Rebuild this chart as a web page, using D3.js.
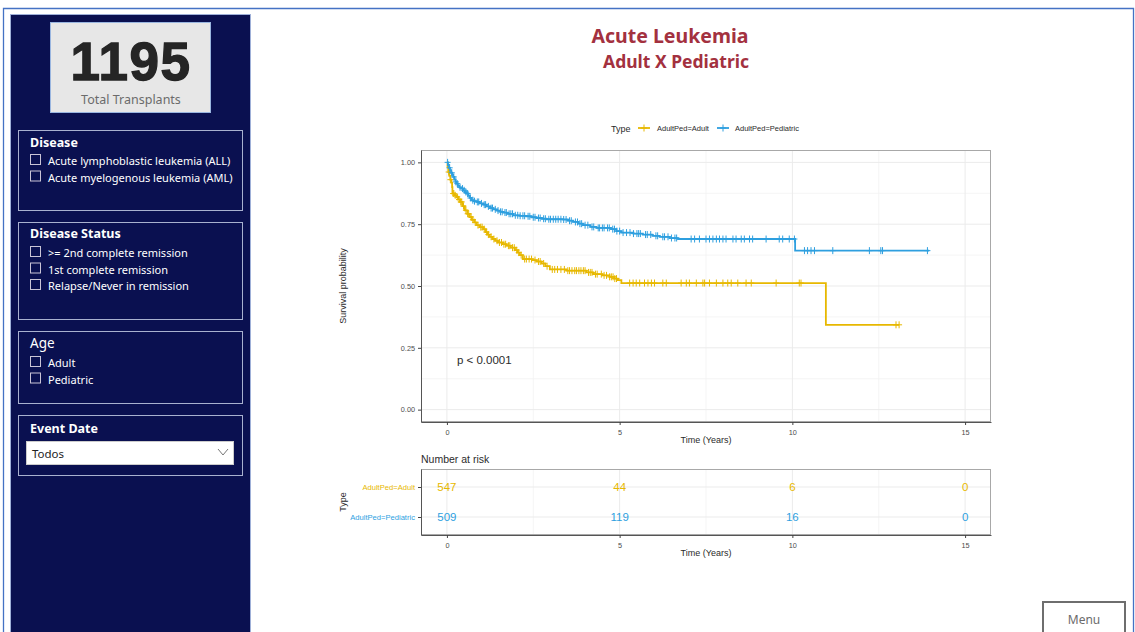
<!DOCTYPE html>
<html><head><meta charset="utf-8">
<script src="https://cdn.jsdelivr.net/npm/d3@7"></script>
<style>body{margin:0;background:#fff;overflow:hidden} svg{display:block}</style>
</head><body><svg id="c" width="1135" height="632"></svg>
<script>
// ---------------- DATA ----------------
const groups = ["AdultPed=Adult", "AdultPed=Pediatric"];
const groupColors = ["#E7B800", "#2E9FDF"];
const adultCurve = [[0,1.0],[0.02,0.98],[0.04,0.961],[0.07,0.945],[0.1,0.93],[0.13,0.918],[0.15,0.9],[0.16,0.874],[0.22,0.867],[0.28,0.86],[0.33,0.85],[0.38,0.84],[0.45,0.823],[0.52,0.806],[0.59,0.792],[0.66,0.779],[0.72,0.768],[0.79,0.757],[0.86,0.746],[0.95,0.738],[1.05,0.73],[1.12,0.718],[1.18,0.708],[1.24,0.699],[1.32,0.69],[1.4,0.683],[1.48,0.676],[1.6,0.669],[1.73,0.663],[1.85,0.655],[1.97,0.645],[2.05,0.635],[2.11,0.625],[2.2,0.609],[2.49,0.605],[2.6,0.599],[2.74,0.591],[2.85,0.58],[2.98,0.567],[3.46,0.562],[4.04,0.555],[4.23,0.548],[4.5,0.543],[4.71,0.537],[4.85,0.53],[4.95,0.524],[5.05,0.512],[10.97,0.343],[13.09,0.343]];
const pedCurve = [[0,1.0],[0.03,0.99],[0.06,0.978],[0.09,0.968],[0.12,0.958],[0.15,0.95],[0.18,0.941],[0.22,0.93],[0.25,0.921],[0.28,0.914],[0.32,0.905],[0.36,0.899],[0.42,0.894],[0.47,0.887],[0.52,0.88],[0.57,0.874],[0.62,0.865],[0.66,0.856],[0.71,0.847],[0.78,0.843],[0.86,0.84],[0.95,0.834],[1.05,0.829],[1.15,0.822],[1.25,0.815],[1.34,0.81],[1.45,0.805],[1.55,0.8],[1.63,0.797],[1.75,0.792],[1.92,0.786],[2.1,0.784],[2.3,0.782],[2.45,0.778],[2.59,0.775],[2.75,0.772],[2.88,0.77],[3.36,0.769],[3.5,0.764],[3.65,0.759],[3.8,0.752],[3.94,0.746],[4.15,0.739],[4.33,0.735],[4.75,0.73],[4.9,0.722],[5.05,0.716],[5.4,0.712],[5.67,0.708],[5.95,0.703],[6.16,0.699],[6.45,0.694],[6.69,0.69],[10.08,0.643],[13.96,0.643]];
const adultCensor = [0.05,0.1,0.18,0.2,0.24,0.3,0.35,0.4,0.43,0.48,0.55,0.6,0.63,0.7,0.75,0.82,0.9,0.98,1.02,1.08,1.15,1.2,1.28,1.36,1.45,1.52,1.58,1.65,1.7,1.78,1.82,1.9,1.95,2.02,2.08,2.15,2.25,2.3,2.38,2.45,2.55,2.65,2.7,2.8,2.9,3.05,3.12,3.2,3.3,3.4,3.5,3.55,3.62,3.7,3.75,3.82,3.88,3.95,4.0,4.1,4.15,4.2,4.3,4.35,4.47,4.55,4.62,4.71,4.76,4.81,4.86,4.91,5.29,5.39,5.48,5.58,5.72,5.82,5.92,6.01,6.25,6.35,6.78,6.93,7.02,7.22,7.41,7.46,7.6,7.8,7.99,8.13,8.23,8.42,8.66,8.81,9.53,10.2,10.25,13.0,13.09];
const pedCensor = [0.02,0.08,0.14,0.2,0.26,0.3,0.38,0.45,0.5,0.55,0.6,0.68,0.75,0.8,0.88,0.92,1.0,1.08,1.12,1.2,1.28,1.32,1.4,1.48,1.55,1.6,1.68,1.72,1.8,1.85,1.9,1.98,2.05,2.12,2.2,2.25,2.35,2.4,2.5,2.55,2.65,2.7,2.8,2.85,2.95,3.0,3.08,3.15,3.22,3.3,3.38,3.45,3.55,3.6,3.72,3.78,3.85,3.9,4.0,4.08,4.2,4.25,4.38,4.42,4.5,4.55,4.65,4.7,4.8,4.85,4.92,5.0,5.1,5.2,5.3,5.4,5.5,5.55,5.6,5.75,5.8,5.9,6.05,6.1,6.25,6.3,6.4,6.5,6.6,6.65,7.07,7.17,7.31,7.5,7.6,7.7,7.8,7.89,7.99,8.08,8.28,8.37,8.52,8.61,8.76,8.85,9.24,9.62,9.72,9.91,10.06,10.35,10.44,10.54,10.64,11.17,12.23,12.56,12.61,13.91];
const xTicks = [0, 5, 10, 15];
const xMinor = [2.5, 7.5, 12.5];
const yTicks = [0, 0.25, 0.5, 0.75, 1.0];
const yMinor = [0.125, 0.375, 0.625, 0.875];
const riskTimes = [0, 5, 10, 15];
const adultRisk = [547, 44, 6, 0];
const pedRisk = [509, 119, 16, 0];
const pValueText = "p < 0.0001";
const totalTransplants = "1195";
const filterTitles = ["Disease", "Disease Status", "Age", "Event Date"];
const diseaseItems = ["Acute lymphoblastic leukemia (ALL)", "Acute myelogenous leukemia (AML)"];
const statusItems = [">= 2nd complete remission", "1st complete remission", "Relapse/Never in remission"];
const ageItems = ["Adult", "Pediatric"];
const eventDateValue = "Todos";

// ---------------- DRAW ----------------
const svg = d3.select("#c");
const UI = "'Segoe UI','Noto Sans','Open Sans',sans-serif";
const AR = "'Liberation Sans',Arial,sans-serif";
const TXT = "#2b2b2b";

// page frame
svg.append("path").attr("d","M3.5,632 V8.5 H1133.5 V632").attr("fill","none").attr("stroke","#4472c4").attr("stroke-width",1.3);

// left navy panel
svg.append("rect").attr("x",10.5).attr("y",14.5).attr("width",240).attr("height",630).attr("fill","#0a1050").attr("stroke","#9fb0d8").attr("stroke-width",1);

// KPI card
svg.append("rect").attr("x",50.5).attr("y",22.5).attr("width",160).attr("height",90).attr("fill","#e7e7e7").attr("stroke","#9ab6e0").attr("stroke-width",1);
svg.append("text").attr("x",131).attr("y",80).attr("text-anchor","middle").attr("font-family",AR).attr("font-weight","bold").attr("font-size",53).attr("letter-spacing",1.5).attr("fill","#252525").attr("stroke","#252525").attr("stroke-width",1.3).text(totalTransplants);
svg.append("text").attr("x",131).attr("y",104).attr("text-anchor","middle").attr("font-family",UI).attr("font-size",12.5).attr("fill","#6b6b6b").text("Total Transplants");

// filter boxes
const boxes = [
  {y:130, h:80, title:filterTitles[0], bold:true, items:diseaseItems, ty:147, iy:165},
  {y:222, h:97, title:filterTitles[1], bold:true, items:statusItems, ty:238, iy:257},
  {y:331, h:72, title:filterTitles[2], bold:false, items:ageItems, ty:348, iy:367},
  {y:415, h:60, title:filterTitles[3], bold:true, items:[], ty:433, iy:0}
];
boxes.forEach(b => {
  svg.append("rect").attr("x",18.5).attr("y",b.y+0.5).attr("width",224).attr("height",b.h).attr("fill","none").attr("stroke","#a9b1cf").attr("stroke-width",1);
  svg.append("text").attr("x",30).attr("y",b.ty).attr("font-family",UI).attr("font-size",b.bold?12.5:13.5).attr("font-weight",b.bold?"bold":"normal").attr("fill","#ffffff").text(b.title);
  b.items.forEach((it,i) => {
    const yy = b.iy + i*16.5;
    svg.append("rect").attr("x",30.5).attr("y",yy-10.5).attr("width",10).attr("height",10).attr("fill","none").attr("stroke","#c9c4d6").attr("stroke-width",1);
    svg.append("text").attr("x",48).attr("y",yy).attr("font-family",UI).attr("font-size",11).attr("fill","#ffffff").text(it);
  });
});
// dropdown
svg.append("rect").attr("x",26.5).attr("y",441.5).attr("width",207).attr("height",23).attr("fill","#ffffff").attr("stroke","#cccccc");
svg.append("text").attr("x",32).attr("y",458).attr("font-family",UI).attr("font-size",11.5).attr("fill","#222").text(eventDateValue);
svg.append("polyline").attr("points","218,449 223,455 228,449").attr("fill","none").attr("stroke","#777").attr("stroke-width",1);

// titles
svg.append("text").attr("x",670).attr("y",43).attr("text-anchor","middle").attr("font-family",UI).attr("font-weight","bold").attr("font-size",19.5).attr("fill","#a3313f").text("Acute Leukemia");
svg.append("text").attr("x",676).attr("y",68).attr("text-anchor","middle").attr("font-family",UI).attr("font-weight","bold").attr("font-size",17.5).attr("fill","#a3313f").text("Adult X Pediatric");

// menu button
svg.append("rect").attr("x",1043).attr("y",602).attr("width",82).attr("height",40).attr("fill","#fff").attr("stroke","#6e6e6e").attr("stroke-width",2);
svg.append("text").attr("x",1084).attr("y",624).attr("text-anchor","middle").attr("font-family",UI).attr("font-size",12).attr("fill","#6b6b6b").text("Menu");

// ---------- survival plot ----------
const P = {l:421, r:991, t:150, b:422};
const x = d3.scaleLinear().domain([-0.75, 15.75]).range([P.l, P.r]);
const y = d3.scaleLinear().domain([-0.05, 1.05]).range([P.b, P.t]);
const g = svg.append("g");
g.append("rect").attr("x",P.l).attr("y",P.t).attr("width",P.r-P.l).attr("height",P.b-P.t).attr("fill","#fff");
xMinor.forEach(v=>g.append("line").attr("x1",x(v)).attr("x2",x(v)).attr("y1",P.t).attr("y2",P.b).attr("stroke","#f3f3f3").attr("stroke-width",0.8));
yMinor.forEach(v=>g.append("line").attr("y1",y(v)).attr("y2",y(v)).attr("x1",P.l).attr("x2",P.r).attr("stroke","#f3f3f3").attr("stroke-width",0.8));
xTicks.forEach(v=>g.append("line").attr("x1",x(v)).attr("x2",x(v)).attr("y1",P.t).attr("y2",P.b).attr("stroke","#ebebeb").attr("stroke-width",1));
yTicks.forEach(v=>g.append("line").attr("y1",y(v)).attr("y2",y(v)).attr("x1",P.l).attr("x2",P.r).attr("stroke","#ebebeb").attr("stroke-width",1));
g.append("rect").attr("x",P.l+0.5).attr("y",P.t+0.5).attr("width",P.r-P.l-1).attr("height",P.b-P.t-1).attr("fill","none").attr("stroke","#a8a8a8").attr("stroke-width",1);

const xAxis = d3.axisBottom(x).tickValues(xTicks).tickSize(3).tickSizeOuter(0).tickFormat(d3.format("d"));
const ga = g.append("g").attr("transform",`translate(0,${P.b})`).call(xAxis);
const yAxis = d3.axisLeft(y).tickValues(yTicks).tickSize(3).tickSizeOuter(0).tickFormat(d3.format(".2f"));
const gy = g.append("g").attr("transform",`translate(${P.l},0)`).call(yAxis);
[ga,gy].forEach(a=>{
  a.select(".domain").attr("stroke","#555");
  a.selectAll(".tick line").attr("stroke","#444");
  a.selectAll(".tick text").attr("font-family",AR).attr("font-size",7.3).attr("fill","#4d4d4d");
});
ga.selectAll(".tick text").attr("dy","0.95em");

const line = d3.line().x(d=>x(d[0])).y(d=>y(d[1])).curve(d3.curveStepAfter);
const curves = [adultCurve, pedCurve];
const censors = [adultCensor, pedCensor];
function stepVal(curve, t){ let v = curve[0][1]; for (const p of curve){ if (p[0] <= t) v = p[1]; else break; } return v; }
curves.forEach((c,i)=>{
  g.append("path").datum(c).attr("d",line).attr("fill","none").attr("stroke",groupColors[i]).attr("stroke-width",1.8);
  g.selectAll(null).data(censors[i]).enter().append("path")
    .attr("d",t=>{const cx=x(t), cy=y(stepVal(c,t)); return `M${cx-3},${cy}H${cx+3}M${cx},${cy-3.5}V${cy+3.5}`;})
    .attr("stroke",groupColors[i]).attr("stroke-width",1).attr("fill","none");
});
g.append("text").attr("x",x(0.29)).attr("y",y(0.2)+4).attr("font-family",AR).attr("font-size",11.5).attr("fill",TXT).text(pValueText);

g.append("text").attr("x",(P.l+P.r)/2).attr("y",443).attr("text-anchor","middle").attr("font-family",AR).attr("font-size",9).attr("fill",TXT).text("Time (Years)");
g.append("text").attr("transform",`translate(346,${(P.t+P.b)/2}) rotate(-90)`).attr("text-anchor","middle").attr("font-family",AR).attr("font-size",9).attr("fill",TXT).text("Survival probability");

// legend
svg.append("text").attr("x",611).attr("y",131.5).attr("font-family",AR).attr("font-size",9).attr("fill",TXT).text("Type");
const legX = [[638,650,657],[717,729,735]];
groups.forEach((gname,i)=>{
  const [a,b,tx] = legX[i], ly = 128;
  svg.append("line").attr("x1",a).attr("x2",b).attr("y1",ly).attr("y2",ly).attr("stroke",groupColors[i]).attr("stroke-width",1.8);
  const m=(a+b)/2;
  svg.append("path").attr("d",`M${m-3},${ly}H${m+3}M${m},${ly-3.5}V${ly+3.5}`).attr("stroke",groupColors[i]).attr("stroke-width",1);
  svg.append("text").attr("x",tx).attr("y",ly+2.6).attr("font-family",AR).attr("font-size",7.5).attr("fill",TXT).text(gname);
});

// ---------- risk table ----------
const R = {t:469, b:535};
const ry = d3.scalePoint().domain(groups).range([R.t, R.b]).padding(0.6);
const rg = svg.append("g");
rg.append("text").attr("x",421).attr("y",463).attr("font-family",AR).attr("font-size",10.5).attr("fill",TXT).text("Number at risk");
rg.append("rect").attr("x",P.l).attr("y",R.t).attr("width",P.r-P.l).attr("height",R.b-R.t).attr("fill","#fff");
xMinor.forEach(v=>rg.append("line").attr("x1",x(v)).attr("x2",x(v)).attr("y1",R.t).attr("y2",R.b).attr("stroke","#f3f3f3").attr("stroke-width",0.8));
xTicks.forEach(v=>rg.append("line").attr("x1",x(v)).attr("x2",x(v)).attr("y1",R.t).attr("y2",R.b).attr("stroke","#ebebeb").attr("stroke-width",1));
groups.forEach(gn=>rg.append("line").attr("x1",P.l).attr("x2",P.r).attr("y1",ry(gn)).attr("y2",ry(gn)).attr("stroke","#ebebeb").attr("stroke-width",1));
rg.append("rect").attr("x",P.l+0.5).attr("y",R.t+0.5).attr("width",P.r-P.l-1).attr("height",R.b-R.t-1).attr("fill","none").attr("stroke","#a8a8a8").attr("stroke-width",1);
const rxa = rg.append("g").attr("transform",`translate(0,${R.b})`).call(d3.axisBottom(x).tickValues(xTicks).tickSize(3).tickSizeOuter(0).tickFormat(d3.format("d")));
const rya = rg.append("g").attr("transform",`translate(${P.l},0)`).call(d3.axisLeft(ry).tickSize(3).tickSizeOuter(0));
[rxa,rya].forEach(a=>{
  a.select(".domain").attr("stroke","#555");
  a.selectAll(".tick line").attr("stroke","#444");
  a.selectAll(".tick text").attr("font-family",AR).attr("font-size",7.3).attr("fill","#4d4d4d");
});
rxa.selectAll(".tick text").attr("dy","0.95em");
rya.selectAll(".tick text").attr("font-size",7.6).attr("fill",(d,i)=>groupColors[i]);
[adultRisk, pedRisk].forEach((arr,i)=>{
  rg.selectAll(null).data(arr).enter().append("text")
    .attr("x",(d,j)=>x(riskTimes[j])).attr("y",ry(groups[i])).attr("dy","0.36em")
    .attr("text-anchor","middle").attr("font-family",AR).attr("font-size",11.5).attr("fill",groupColors[i]).text(d=>d);
});
rg.append("text").attr("x",(P.l+P.r)/2).attr("y",556).attr("text-anchor","middle").attr("font-family",AR).attr("font-size",9).attr("fill",TXT).text("Time (Years)");
rg.append("text").attr("transform",`translate(346,${(R.t+R.b)/2}) rotate(-90)`).attr("text-anchor","middle").attr("font-family",AR).attr("font-size",9).attr("fill",TXT).text("Type");
</script></body></html>
